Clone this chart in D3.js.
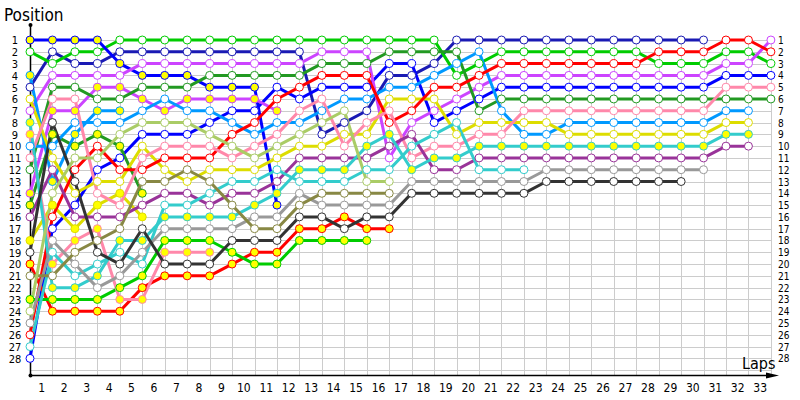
<!DOCTYPE html>
<html><head><meta charset="utf-8">
<script src="https://cdn.jsdelivr.net/npm/d3@7"></script>
<style>body{margin:0;background:#fff}svg{display:block}</style>
</head><body>
<svg id="chart" width="800" height="400"></svg>
<script>
// ---- data ----
const lapTicks = d3.range(1, 34);
const positionTicks = d3.range(1, 29);
const driverIds = ["navyW","greenW","blueY","blueW","violetW","violetY","dgW","dgY","lbW","lbY","yellowW","yellowY","redW","redY","greenY","pinkW","pinkY","purpleW","cyanW","cyanY","grayW","blackW","oliveW","lgreenW"];
const driverColors = ["#1a1ab4","#00cc00","#0000ff","#0000ff","#cc44ff","#cc44ff","#229922","#229922","#0099ff","#0099ff","#dddd00","#dddd00","#ff0000","#ff0000","#00cc00","#ff88aa","#ff88aa","#993399","#33cccc","#33cccc","#999999","#333333","#888844","#aacc66"];
const driverFills = ["w","w","y","w","w","y","w","y","w","y","w","y","w","y","y","w","y","w","w","y","w","w","w","w"];
const navyW   = [5,2,3,3,2,2,2,2,2,2,2,2,2,9,8,7,4,4,3,1,1,1,1,1,1,1,1,1,1,1,1];
const greenW  = [2,3,2,2,1,1,1,1,1,1,1,1,1,1,1,1,1,1,1,4,3,2,2,2,2,2,2,2,3,3,3,2,2,3];
const blueY   = [1,1,1,1,3,4,4,4,5,5,5,15];
const blueW   = [28,17,15,12,11,9,9,9,8,7,7,5,6,5,5,5,3,3,8,7,6,5,5,5,5,5,5,5,5,5,5,4,4,4];
const violetW = [7,4,4,4,4,3,3,3,3,3,3,3,3,2,2,2,11,8,7,6,5,4,4,4,4,4,4,4,4,4,4,3,3,1];
const violetY = [14,7,7,5,5,6,7,6,6,6,6,7];
const dgW     = [12,5,5,6,6,5,5,5,4,4,4,4,4,3,3,3,2,2,2,2,7,6,6,6,6,6,6,6,6,6,6,6,6,6];
const dgY     = [15,9,10,9,10,14];
const lbW     = [10,10,8,8,8,7,6,7,7,8,9,8,8,7,6,6,5,5,4,3,2,7,9,9,8,8,8,8,8,8,8,7,7];
const lbY     = [4,13,9,7,7];
const yellowW = [6,11,14,13,13,10,12,13,12,12,12,11,10,10,9,9,6,6,6,9,8,8,8,8,9,9,9,9,9,9,9,8,8];
const yellowY = [18,15,17,15,14,16];
const redW    = [26,16,12,10,12,12,11,11,11,9,8,6,5,4,4,4,8,7,5,5,4,3,3,3,3,3,3,3,2,2,2,1,1,2];
const redY    = [20,24,24,24,24,22,21,21,21,20,19,19,17,17,16,17,17];
const greenY  = [23,23,23,23,22,21,18,18,18,19,20,20,18,18,18,18];
const pinkW   = [11,6,6,14,15,11,10,10,10,11,10,9,7,6,10,8,7,11,10,10,9,9,7,7,7,7,7,7,7,7,7,5,5,5];
const pinkY   = [9,20,18,17,23,23,19,19,19];
const purpleW = [16,12,16,16,16,15,14,14,15,14,14,13,11,11,11,11,10,9,12,12,11,11,11,11,11,11,11,11,11,11,11,10,10];
const cyanW   = [27,19,21,20,19,20,15,15,14,13,13,12,13,13,13,12,12,10,9,8,12,12,12];
const cyanY   = [8,22,22,21,18,18,16,16,16,16,15,14,12,12,12,10,9,12,11,11,10,10,10,10,10,10,10,10,10,10,10,9,9];
const grayW   = [25,18,20,22,21,19,17,17,17,17,16,16,14,15,15,15,15,13,13,13,13,13,13,12,12,12,12,12,12,12,12];
const blackW  = [19,8,13,19,20,17,20,20,20,18,18,18,16,16,17,16,16,14,14,14,14,14,14,13,13,13,13,13,13,13];
const oliveW  = [21,21,19,18,17,13,13,12,13,15,17,17,15,14,14,14,14];
const lgreenW = [24,14,11,11,9,8,8,8,9,10,11,10,9,8,7,13,13];
const driverPositions = [navyW,greenW,blueY,blueW,violetW,violetY,dgW,dgY,lbW,lbY,yellowW,yellowY,redW,redY,greenY,pinkW,pinkY,purpleW,cyanW,cyanY,grayW,blackW,oliveW,lgreenW];

// ---- drawing ----
const svg = d3.select("#chart");
const x = d3.scaleLinear().domain([0, 33]).range([30, 770.9]);
const y = d3.scaleLinear().domain([1, 28]).range([40, 358.4]);
const font = "'DejaVu Sans Condensed', Tahoma, 'DejaVu Sans', sans-serif";

// grid
const gridRows = d3.range(1, 30);
const grid = svg.append("g").attr("stroke", "#cccccc").attr("stroke-width", 1).attr("shape-rendering", "crispEdges");
grid.selectAll("line.h").data(gridRows).join("line").attr("class","h")
  .attr("x1", x(0)).attr("x2", x(33)).attr("y1", d => Math.round(y(d)) + 0.5).attr("y2", d => Math.round(y(d)) + 0.5);
grid.selectAll("line.v").data(lapTicks).join("line").attr("class","v")
  .attr("y1", y(1)).attr("y2", 375).attr("x1", d => Math.round(x(d)) + 0.5).attr("x2", d => Math.round(x(d)) + 0.5);

// axes
const gAxB = svg.append("g").attr("transform", "translate(0,375)");
gAxB.call(d3.axisBottom(x).tickValues(lapTicks.map(d => d - 0.5)).tickSize(0).tickFormat(d => d + 0.5));
gAxB.select(".domain").remove();
gAxB.selectAll("text").attr("font-family", font).attr("font-size", 12).attr("fill", "#000").attr("dy", "1.2em");

const gAxL = svg.append("g").attr("transform", "translate(22,0)");
gAxL.call(d3.axisLeft(y).tickValues(positionTicks).tickSize(0).tickFormat(d3.format("d")));
gAxL.select(".domain").remove();
gAxL.selectAll("text").attr("font-family", font).attr("font-size", 11).attr("fill", "#000").attr("text-anchor", "middle").attr("x", -7).attr("dy", "0.35em");

const gAxR = svg.append("g").attr("transform", "translate(776,0)");
gAxR.call(d3.axisRight(y).tickValues(positionTicks).tickSize(0).tickFormat(d3.format("d")));
gAxR.select(".domain").remove();
gAxR.selectAll("text").attr("font-family", font).attr("font-size", 10).attr("fill", "#000").attr("x", 2).attr("dy", "0.35em");

svg.append("line").attr("x1", 30.5).attr("x2", 30.5).attr("y1", 25).attr("y2", 375).attr("stroke", "#000").attr("stroke-width", 1.5);
svg.append("line").attr("x1", 30).attr("x2", 768).attr("y1", 375.5).attr("y2", 375.5).attr("stroke", "#000").attr("stroke-width", 1.5);
svg.append("circle").attr("cx", 30.5).attr("cy", 25).attr("r", 2).attr("fill", "#000");
svg.append("circle").attr("cx", 30.5).attr("cy", 375.5).attr("r", 2).attr("fill", "#000");
svg.append("path").attr("d", "M766,372.5 L779,375.5 L766,378.5 Z").attr("fill", "#000");
svg.append("text").attr("x", 4).attr("y", 21).attr("font-family", font).attr("font-size", 17).text("Position");
svg.append("text").attr("x", 742).attr("y", 369).attr("font-family", font).attr("font-size", 16).text("Laps");

// lines
const line = d3.line().x((d, i) => x(i)).y(d => y(d));
const gl = svg.append("g");
driverPositions.forEach((arr, k) => {
  gl.append("path").datum(arr).attr("d", line).attr("fill", "none")
    .attr("stroke", driverColors[k]).attr("stroke-width", 3).attr("stroke-linejoin", "round");
});
const gc = svg.append("g");
driverPositions.forEach((arr, k) => {
  gc.selectAll(null).data(arr).join("circle")
    .attr("cx", (d, i) => x(i)).attr("cy", d => y(d)).attr("r", 4)
    .attr("fill", driverFills[k] === "y" ? "#ffff00" : "#ffffff")
    .attr("stroke", driverColors[k]).attr("stroke-width", 1);
});
</script>
</body></html>
